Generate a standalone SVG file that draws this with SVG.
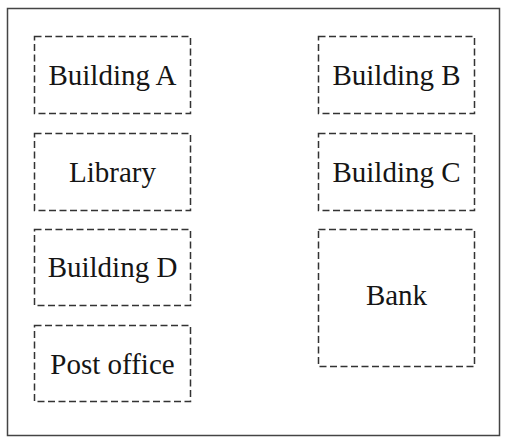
<svg xmlns="http://www.w3.org/2000/svg" width="508" height="444" viewBox="0 0 508 444">
<style>
.b{fill:none;stroke:#333;stroke-width:1.5;stroke-dasharray:7 3.5}
.t{font-family:"Liberation Serif","Times New Roman",serif;font-size:29px;fill:#151515;text-anchor:middle}
</style>
<rect x="0" y="0" width="508" height="444" fill="#fff"/>
<rect x="7.5" y="8.5" width="492" height="427" fill="none" stroke="#444" stroke-width="1.5"/>
<g id="building-a"><rect class="b" x="34.5" y="36.5" width="156" height="77"/><text class="t" x="112.5" y="84.5">Building A</text></g>
<g id="library"><rect class="b" x="34.5" y="133.5" width="156" height="77"/><text class="t" x="112.5" y="181.5">Library</text></g>
<g id="building-d"><rect class="b" x="34.5" y="229.5" width="156" height="76"/><text class="t" x="112.5" y="277">Building D</text></g>
<g id="post-office"><rect class="b" x="34.5" y="325.5" width="156" height="76"/><text class="t" x="112.5" y="374">Post office</text></g>
<g id="building-b"><rect class="b" x="318.5" y="36.5" width="156" height="77"/><text class="t" x="396.5" y="84.5">Building B</text></g>
<g id="building-c"><rect class="b" x="318.5" y="133.5" width="156" height="77"/><text class="t" x="396.5" y="181.5">Building C</text></g>
<g id="bank"><rect class="b" x="318.5" y="229.5" width="156" height="137"/><text class="t" x="396.5" y="305">Bank</text></g>
<g id="connectors"></g>
</svg>
